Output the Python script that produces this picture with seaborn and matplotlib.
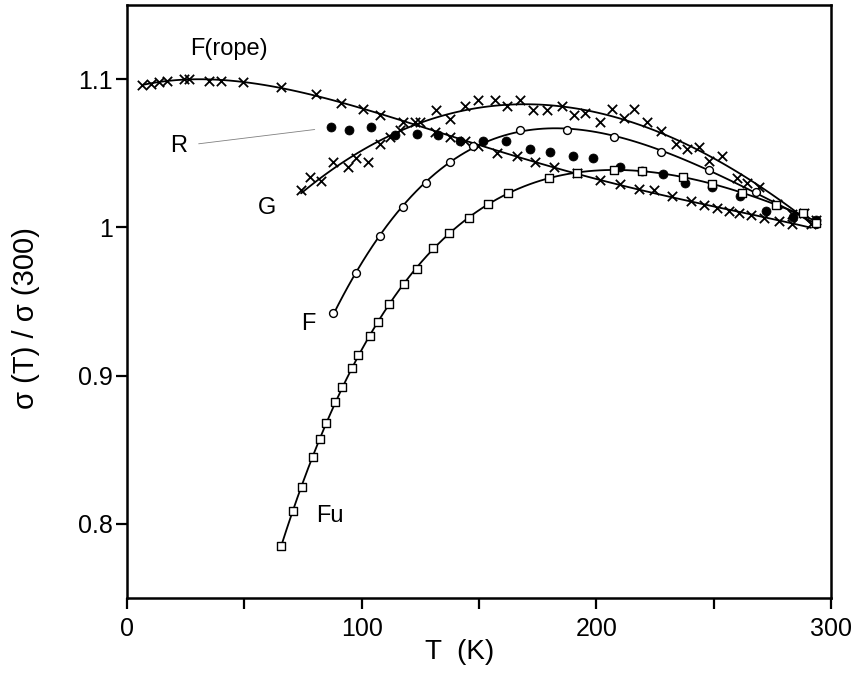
import matplotlib
matplotlib.use("Agg")
import matplotlib.pyplot as plt
import seaborn as sns

# F(rope): crosses
rope_T = [6.5, 10.1, 13.7, 17.2, 24.4, 26.5, 35, 40, 49.3, 65.7, 80.6, 91.3, 100.6, 107.7,
          117.5, 124.8, 131.2, 137.6, 144, 149.7, 157.5, 166, 173.9, 181.8, 191.7, 201.7,
          210.3, 218.1, 224.5, 232.3, 240.2, 245.9, 251.6, 256.5, 260.8, 265.8, 271.5,
          277.9, 283.6, 291.5]
rope_s = [1.096, 1.097, 1.098, 1.099, 1.100, 1.100, 1.099, 1.099, 1.098, 1.095, 1.090,
          1.084, 1.080, 1.076, 1.071, 1.071, 1.064, 1.061, 1.058, 1.055, 1.050, 1.048,
          1.044, 1.041, 1.037, 1.032, 1.029, 1.026, 1.025, 1.021, 1.018, 1.015, 1.013,
          1.011, 1.010, 1.008, 1.006, 1.004, 1.002, 1.002]

# G: crosses
g_T = [74.2, 77.8, 82.8, 87.7, 94.1, 97.7, 102.7, 107.7, 112, 116.2, 122.6, 131.9, 137.6,
       144, 149.7, 156.8, 161.8, 167.5, 173.2, 178.9, 185.3, 190.3, 195.3, 201.7, 206.7,
       211.7, 216, 221.7, 227.4, 233.8, 238.8, 243.7, 248, 253.7, 260.1, 264.4, 269.4,
       277.2, 283.6, 288.6, 293.6]
g_s = [1.025, 1.034, 1.031, 1.044, 1.041, 1.047, 1.044, 1.056, 1.061, 1.066, 1.071, 1.079,
       1.073, 1.082, 1.086, 1.086, 1.082, 1.086, 1.079, 1.079, 1.082, 1.076, 1.077, 1.071,
       1.080, 1.074, 1.080, 1.071, 1.065, 1.056, 1.053, 1.054, 1.045, 1.048, 1.033, 1.030,
       1.027, 1.016, 1.009, 1.010, 1.005]

# F: open circles
f_T = [88, 97.4, 107.7, 117.6, 127.6, 137.6, 147.6, 167.5, 187.5, 207.4, 227.4, 248, 268, 293.6]
f_s = [0.942, 0.969, 0.994, 1.014, 1.030, 1.044, 1.055, 1.066, 1.066, 1.061, 1.051, 1.039,
       1.024, 1.002]

# R: filled circles
r_T = [87, 94.6, 103.8, 114.1, 123.4, 132.6, 141.9, 151.6, 161.5, 171.8, 180.3, 190, 198.4,
       210.3, 219.5, 228.3, 237.6, 249.4, 261.1, 272.5, 284, 293.6]
r_s = [1.068, 1.066, 1.068, 1.062, 1.063, 1.062, 1.058, 1.058, 1.058, 1.053, 1.051, 1.048,
       1.047, 1.041, 1.038, 1.036, 1.030, 1.027, 1.021, 1.011, 1.007, 1.005]

# Fu: open squares
fu_T = [65.7, 70.6, 74.5, 79.2, 82.2, 84.6, 88.6, 91.8, 95.9, 98.6, 103.7, 107, 111.7, 118.1,
        123.4, 130.2, 137.2, 145.7, 154, 162.5, 180, 191.7, 207.4, 219.5, 237, 249.4, 262.2,
        276.5, 287.9, 293.6]
fu_s = [0.785, 0.809, 0.825, 0.845, 0.857, 0.868, 0.882, 0.892, 0.905, 0.914, 0.927, 0.936,
        0.948, 0.962, 0.972, 0.986, 0.996, 1.006, 1.016, 1.023, 1.033, 1.037, 1.039, 1.038,
        1.034, 1.029, 1.023, 1.015, 1.010, 1.003]

sns.set_style("ticks")
plt.rcParams["font.family"] = ["Liberation Sans", "DejaVu Sans"]
plt.rcParams["text.color"] = "black"
plt.rcParams["axes.labelcolor"] = "black"

fig = plt.figure(figsize=(8.54, 6.74), dpi=100)
ax = fig.add_axes([0.1487, 0.1128, 0.8243, 0.8798])

line_kw = dict(color="black", lw=1.3)

# fitted curves
sns.regplot(x=rope_T, y=rope_s, order=4, ci=None, scatter=False, line_kws=line_kw, ax=ax)
sns.regplot(x=g_T, y=g_s, order=3, ci=None, scatter=False, line_kws=line_kw, ax=ax)
sns.regplot(x=f_T, y=f_s, order=4, ci=None, scatter=False, line_kws=line_kw, ax=ax)
sns.regplot(x=fu_T, y=fu_s, order=5, ci=None, scatter=False, line_kws=line_kw, ax=ax)

# markers
sns.scatterplot(x=rope_T, y=rope_s, marker="x", s=45, color="black", linewidth=1.3, ax=ax)
sns.scatterplot(x=g_T, y=g_s, marker="x", s=45, color="black", linewidth=1.3, ax=ax)
sns.scatterplot(x=f_T, y=f_s, marker="o", s=32, facecolor="white", edgecolor="black",
                linewidth=1.0, ax=ax, zorder=3)
sns.scatterplot(x=r_T, y=r_s, marker="o", s=42, color="black", edgecolor="black", ax=ax, zorder=3)
sns.scatterplot(x=fu_T, y=fu_s, marker="s", s=40, facecolor="white", edgecolor="black",
                linewidth=1.0, ax=ax, zorder=3)

# curve labels
lab = dict(fontsize=17, color="black", ha="center", va="center")
ax.text(43.6, 1.120, "F(rope)", **lab)
ax.text(59.8, 1.013, "G", **lab)
ax.text(77.4, 0.935, "F", **lab)
ax.text(86.3, 0.805, "Fu", **lab)
ax.annotate("R", xy=(80, 1.066), xytext=(22, 1.0547), fontsize=17, ha="center", va="center",
            arrowprops=dict(arrowstyle="-", lw=0.6, color="gray", shrinkA=6, shrinkB=0))

ax.set_xlim(0, 300)
ax.set_ylim(0.75, 1.15)
ax.set_xticks([0, 100, 200, 300])
ax.set_xticks([50, 150, 250], minor=True)
ax.set_yticks([0.8, 0.9, 1.0, 1.1])
ax.set_yticklabels(["0.8", "0.9", "1", "1.1"])
ax.tick_params(axis="both", which="both", direction="out", length=8, width=1.6,
               labelsize=18, colors="black")
ax.tick_params(axis="x", pad=6)
ax.tick_params(axis="y", pad=2)
for sp in ax.spines.values():
    sp.set_visible(True)
    sp.set_linewidth(1.8)
    sp.set_color("black")

ax.set_xlabel("T  (K)", fontsize=20)
ax.set_ylabel("σ (T) / σ (300)", fontsize=21)
ax.xaxis.set_label_coords(0.473, -0.070)
ax.yaxis.set_label_coords(-0.124, 0.472)

fig.savefig("out.png", dpi=100)
